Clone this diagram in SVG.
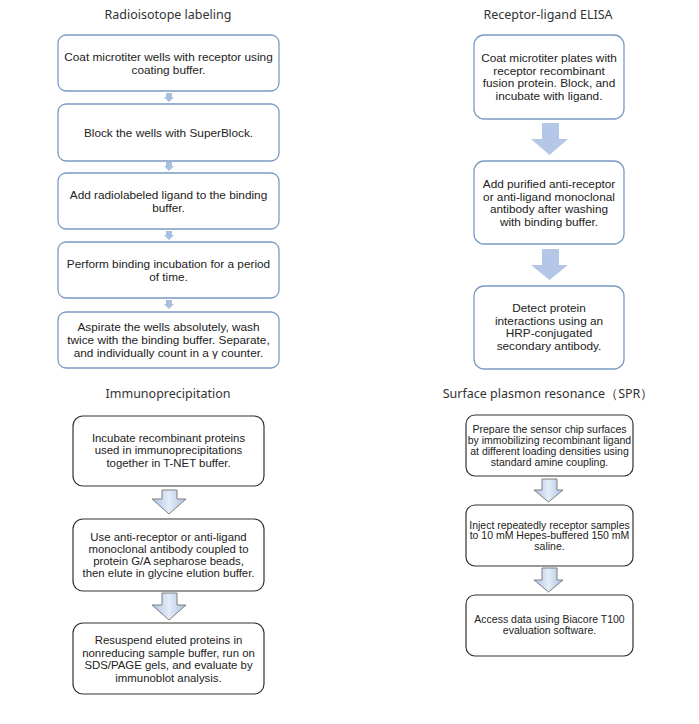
<svg xmlns="http://www.w3.org/2000/svg" width="699" height="724" viewBox="0 0 699 724">
<defs>
<linearGradient id="ag" x1="0" y1="0" x2="1" y2="0">
<stop offset="0" stop-color="#a9c0e2"/>
<stop offset="0.5" stop-color="#e4edf8"/>
<stop offset="1" stop-color="#a9c0e2"/>
</linearGradient>
</defs>
<style>
.title{font-family:"Noto Sans","Liberation Sans",sans-serif;font-size:12.5px;fill:#333;text-anchor:middle}
.t{font-family:"Liberation Sans",Arial,sans-serif;font-size:11.8px;fill:#222;text-anchor:middle}
.tm{font-family:"Liberation Sans",Arial,sans-serif;font-size:11.4px;fill:#222;text-anchor:middle}
.ts{font-family:"Liberation Sans",Arial,sans-serif;font-size:10.5px;fill:#222;text-anchor:middle}
.bb{fill:#fff;stroke:#7b9bc4;stroke-width:1.3}
.bk{fill:#fff;stroke:#333;stroke-width:1.2}
.sa{fill:#a9bfe0}
.ba{fill:#b4c7e7}
.ga{fill:url(#ag);stroke:#7f7f7f;stroke-width:1}
</style>
<rect width="699" height="724" fill="#fff"/>
<text class="title" x="168" y="19">Radioisotope labeling</text>
<text class="title" x="548" y="19">Receptor-ligand ELISA</text>
<text class="title" x="168" y="398">Immunoprecipitation</text>
<text class="title" x="548" y="398">Surface plasmon resonance（SPR）</text>
<g id="connectors">
<path class="sa" d="M166,93 h6 v4 h2 l-5,5 l-5,-5 h2 z"/>
<path class="sa" d="M166,162 h6 v4 h2 l-5,5 l-5,-5 h2 z"/>
<path class="sa" d="M166,231 h6 v4 h2 l-5,5 l-5,-5 h2 z"/>
<path class="sa" d="M166,300 h6 v4 h2 l-5,5 l-5,-5 h2 z"/>
<path class="ba" d="M542,123 h17 v16 h9 l-18.5,16 l-18.5,-16 h11 z"/>
<path class="ba" d="M542,249 h17 v16 h9 l-18.5,15 l-18.5,-15 h11 z"/>
<path class="ga" d="M162,490 h15 v9 h9 l-17,15 l-17,-15 h10 z"/>
<path class="ga" d="M162,593 h15 v12 h9 l-17,15 l-17,-15 h10 z"/>
<path class="ga" d="M542,479 h15 v11 h6 l-14.5,12 l-14.5,-12 h8 z"/>
<path class="ga" d="M542,568 h15 v12 h6 l-14.5,12 l-14.5,-12 h8 z"/>
</g>
<g id="r1"><rect class="bb" x="58" y="35" width="221" height="56" rx="8"/>
<text class="t" x="168.5" y="61">Coat microtiter wells with receptor using</text>
<text class="t" x="168.5" y="74">coating buffer.</text></g>
<g id="r2"><rect class="bb" x="58" y="104" width="221" height="57" rx="8"/>
<text class="t" x="168.5" y="137">Block the wells with SuperBlock.</text></g>
<g id="r3"><rect class="bb" x="58" y="173" width="221" height="56" rx="8"/>
<text class="t" x="168.5" y="199">Add radiolabeled ligand to the binding</text>
<text class="t" x="168.5" y="212">buffer.</text></g>
<g id="r4"><rect class="bb" x="58" y="242" width="221" height="56" rx="8"/>
<text class="t" x="168.5" y="268">Perform binding incubation for a period</text>
<text class="t" x="168.5" y="281">of time.</text></g>
<g id="r5"><rect class="bb" x="58" y="312" width="221" height="56" rx="8"/>
<text class="t" x="168.5" y="331">Aspirate the wells absolutely, wash</text>
<text class="t" x="168.5" y="344">twice with the binding buffer. Separate,</text>
<text class="t" x="168.5" y="357">and individually count in a γ counter.</text></g>
<g id="e1"><rect class="bb" x="474" y="35" width="150" height="84" rx="10"/>
<text class="t" x="549" y="62">Coat microtiter plates with</text>
<text class="t" x="549" y="74.5">receptor recombinant</text>
<text class="t" x="549" y="87">fusion protein. Block, and</text>
<text class="t" x="549" y="99.5">incubate with ligand.</text></g>
<g id="e2"><rect class="bb" x="474" y="161" width="150" height="83" rx="10"/>
<text class="t" x="549" y="188">Add purified anti-receptor</text>
<text class="t" x="549" y="200.5">or anti-ligand monoclonal</text>
<text class="t" x="549" y="213">antibody after washing</text>
<text class="t" x="549" y="225.5">with binding buffer.</text></g>
<g id="e3"><rect class="bb" x="474" y="286" width="150" height="83" rx="10"/>
<text class="t" x="549" y="312">Detect protein</text>
<text class="t" x="549" y="324.5">interactions using an</text>
<text class="t" x="549" y="337">HRP-conjugated</text>
<text class="t" x="549" y="349.5">secondary antibody.</text></g>
<g id="i1"><rect class="bk" x="73" y="416" width="191" height="70" rx="10"/>
<text class="tm" x="168.5" y="441.5">Incubate recombinant proteins</text>
<text class="tm" x="168.5" y="454">used in immunoprecipitations</text>
<text class="tm" x="168.5" y="466.5">together in T-NET buffer.</text></g>
<g id="i2"><rect class="bk" x="73" y="519" width="191" height="72" rx="10"/>
<text class="tm" x="168.5" y="541">Use anti-receptor or anti-ligand</text>
<text class="tm" x="168.5" y="553">monoclonal antibody coupled to</text>
<text class="tm" x="168.5" y="565">protein G/A sepharose beads,</text>
<text class="tm" x="168.5" y="577">then elute in glycine elution buffer.</text></g>
<g id="i3"><rect class="bk" x="73" y="623" width="191" height="71" rx="10"/>
<text class="tm" x="168.5" y="644">Resuspend eluted proteins in</text>
<text class="tm" x="168.5" y="656.5">nonreducing sample buffer, run on</text>
<text class="tm" x="168.5" y="669">SDS/PAGE gels, and evaluate by</text>
<text class="tm" x="168.5" y="681.5">immunoblot analysis.</text></g>
<g id="s1"><rect class="bk" x="466" y="415" width="167" height="61" rx="9"/>
<text class="ts" x="549.5" y="432.5">Prepare the sensor chip surfaces</text>
<text class="ts" x="549.5" y="443.5">by immobilizing recombinant ligand</text>
<text class="ts" x="549.5" y="454.5">at different loading densities using</text>
<text class="ts" x="549.5" y="465.5">standard amine coupling.</text></g>
<g id="s2"><rect class="bk" x="466" y="505" width="167" height="61" rx="9"/>
<text class="ts" x="549.5" y="528.5">Inject repeatedly receptor samples</text>
<text class="ts" x="549.5" y="539">to 10 mM Hepes-buffered 150 mM</text>
<text class="ts" x="549.5" y="549.5">saline.</text></g>
<g id="s3"><rect class="bk" x="466" y="595" width="167" height="61" rx="9"/>
<text class="ts" x="549.5" y="622.5">Access data using Biacore T100</text>
<text class="ts" x="549.5" y="633.5">evaluation software.</text></g>
</svg>
